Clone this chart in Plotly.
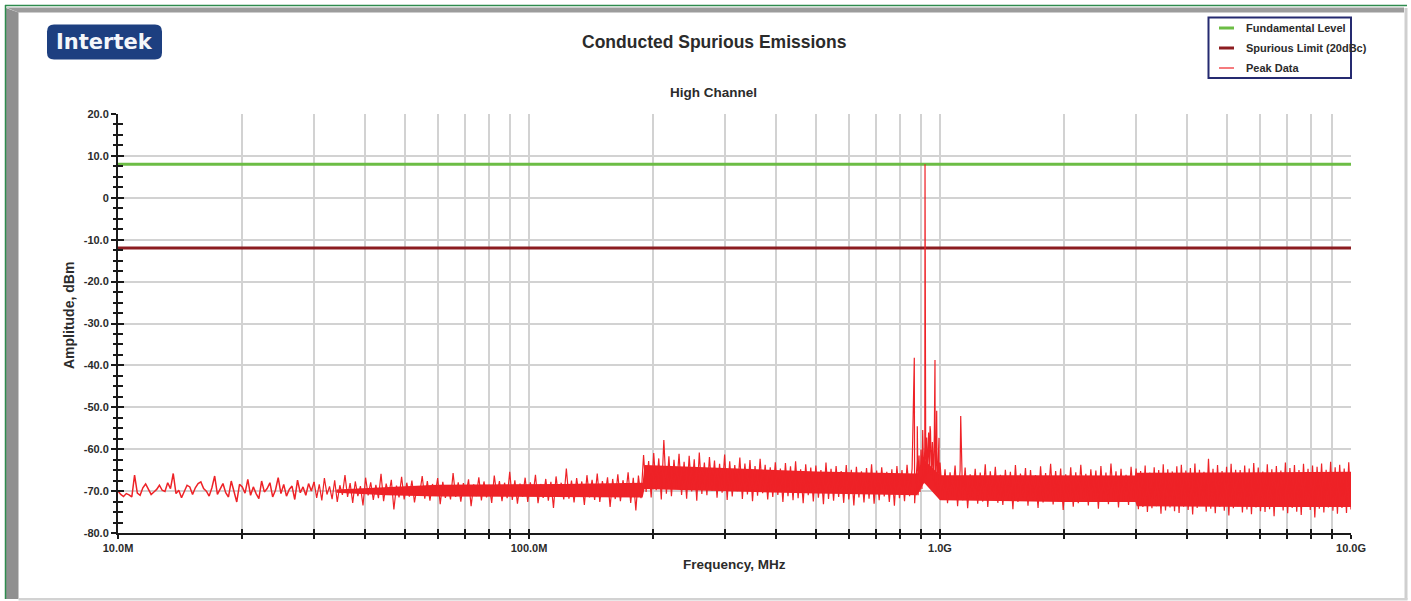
import numpy as np
import plotly.graph_objects as go

# ---------------------------------------------------------------------------
# Measurement data (frequency in MHz, amplitude in dBm)
# ---------------------------------------------------------------------------

# Sweep segment edges; each segment's readings are spread evenly (log-f) across it
seg_edges_mhz = [10, 30, 190, 880, 1000, 3000, 10000]

# 10 - 30 MHz
seg1_dbm = [-70.0, -70.8, -71.3, -70.6, -70.9, -71.4, -66.2, -70.5, -71.0, -69.2,
            -68.3, -69.5, -70.8, -70.2, -69.6, -68.6, -69.8, -70.1, -68.0, -69.4,
            -65.8, -70.6, -69.8, -71.6, -70.0, -68.6, -69.0, -70.8, -69.2, -68.2,
            -67.8, -69.4, -70.0, -71.2, -69.2, -66.4, -70.8, -69.6, -68.2, -70.4,
            -71.4, -67.6, -70.2, -72.6, -68.4, -69.0, -70.5, -67.2, -71.0, -69.0,
            -70.6, -71.8, -67.6, -70.2, -69.4, -68.0, -71.4, -69.8, -66.8, -70.6,
            -68.4, -71.2, -69.6, -68.8, -72.0, -67.4, -70.4, -69.0, -71.0, -68.2,
            -70.0]

# 30 - 190 MHz
seg2_dbm = [-67.8, -71.6, -68.4, -72.2, -66.9, -70.8, -68.9, -71.9, -67.4, -72.6,
            -68.6, -70.9, -66.2, -71.4, -68.1, -72.8, -67.7, -71.2, -68.8, -73.4,
            -66.8, -71.0, -67.9, -72.1, -68.5, -71.7, -65.9, -72.4, -68.2, -70.9,
            -67.3, -74.4, -68.7, -71.5, -66.6, -72.0, -68.0, -71.3, -67.5, -72.7,
            -68.9, -70.8, -66.4, -71.8, -67.6, -72.3, -68.3, -71.1, -66.9, -73.1,
            -67.8, -71.6, -68.6, -72.0, -65.7, -71.4, -67.9, -72.5, -68.1, -70.9,
            -67.2, -73.6, -68.4, -71.2, -66.7, -72.2, -67.7, -71.5, -68.5, -72.8,
            -66.3, -71.0, -67.6, -72.4, -68.0, -71.7, -65.4, -72.1, -67.4, -73.0,
            -68.2, -71.3, -66.8, -72.6, -67.9, -71.1, -66.1, -72.9, -68.3, -71.6,
            -67.1, -72.3, -67.8, -74.0, -66.5, -71.4, -68.0, -72.0, -64.6, -71.8,
            -67.5, -72.7, -66.9, -71.2, -67.7, -73.3, -66.2, -71.5, -67.3, -72.1,
            -65.8, -72.6, -67.6, -71.0, -66.7, -73.8, -67.1, -71.9, -66.0, -72.4,
            -67.4, -71.3, -65.5, -72.8, -66.8, -74.6, -66.3, -71.7]

# 190 - 880 MHz
seg3_dbm = [-61.4, -70.2, -62.8, -71.5, -60.9, -69.8, -62.2, -72.0, -57.8, -70.6,
            -61.7, -71.2, -62.5, -69.5, -61.1, -70.9, -63.0, -71.8, -61.6, -70.1,
            -62.4, -72.3, -60.8, -70.7, -63.2, -71.0, -61.9, -69.9, -62.7, -71.6,
            -63.5, -70.4, -61.3, -72.1, -62.9, -71.3, -63.8, -70.0, -62.0, -71.9,
            -63.4, -70.8, -62.6, -72.4, -64.0, -71.1, -62.3, -70.5, -63.7, -72.0,
            -64.3, -71.4, -63.1, -70.9, -64.6, -72.6, -63.3, -71.2, -64.1, -72.2,
            -62.9, -71.7, -64.8, -72.9, -63.6, -71.0, -64.4, -72.5, -63.9, -71.6,
            -65.0, -73.1, -63.2, -71.9, -64.7, -72.3, -64.0, -71.4, -65.2, -72.8,
            -63.8, -72.0, -64.9, -73.4, -64.2, -71.5, -65.3, -72.7, -64.5, -71.8,
            -63.6, -73.0, -65.1, -72.2, -64.3, -71.3, -65.4, -72.6, -64.8, -73.5,
            -64.0, -71.7, -65.0, -72.4, -63.7, -71.2, -64.6, -72.9]

# 880 - 1000 MHz (around the carrier)
seg4_dbm = [-62.8, -71.0, -61.5, -70.2, -60.1, -69.5, -58.6, -68.2, -59.4, -67.0,
            -57.2, -65.8, -56.0, -64.5, -55.6, -66.0, -58.3, -67.6, -56.8, -69.0,
            -59.7, -70.4, -61.2, -71.6]

# 1 - 3 GHz
seg5_dbm = [-63.2, -71.8, -64.8, -72.9, -65.5, -71.4, -63.9, -73.6, -65.1, -72.2,
            -64.4, -74.1, -66.0, -71.7, -64.7, -73.0, -65.6, -72.5, -63.6, -73.8,
            -65.3, -71.9, -64.2, -72.8, -66.1, -73.3, -64.9, -72.1, -65.4, -74.3,
            -63.8, -72.6, -65.8, -71.6, -64.5, -73.5, -65.0, -72.3, -66.2, -74.0,
            -64.1, -72.7, -65.7, -71.8, -63.5, -73.2, -65.2, -72.4, -64.6, -74.5,
            -66.0, -72.0, -64.3, -73.7, -65.5, -72.9, -63.7, -71.9, -65.9, -73.4,
            -64.8, -72.2, -65.1, -74.2, -64.0, -72.6, -65.6, -73.1, -63.4, -72.0,
            -65.3, -73.9, -64.7, -72.5, -66.1, -73.3, -64.2, -71.7]

# 3 - 10 GHz
seg6_dbm = [-64.6, -74.3, -65.2, -73.8, -63.9, -75.0, -65.6, -74.1, -64.3, -73.6,
            -65.0, -75.4, -63.6, -74.6, -64.8, -73.9, -65.3, -74.8, -64.1, -75.2,
            -63.7, -73.7, -65.1, -74.5, -64.5, -75.6, -63.4, -74.0, -64.9, -73.5,
            -65.4, -74.9, -62.3, -74.2, -64.7, -75.3, -63.8, -73.8, -65.2, -74.7,
            -64.2, -75.8, -63.5, -74.1, -64.9, -73.6, -65.0, -75.1, -63.9, -74.4,
            -64.6, -75.5, -63.3, -73.9, -64.4, -74.8, -65.3, -75.0, -63.6, -74.3,
            -64.8, -76.0, -64.0, -73.7, -65.1, -74.6, -63.2, -75.3, -64.5, -74.0,
            -63.8, -74.9, -65.0, -75.7, -63.5, -73.8, -64.7, -74.5, -63.9, -76.3,
            -64.2, -74.2, -63.4, -75.1, -64.9, -73.9, -63.0, -74.7, -64.3, -75.4,
            -63.7, -74.0, -64.6, -75.2, -63.1, -74.4]

# Carrier and discrete spurs
spur_mhz = [865.9, 880.6, 907.7, 919.5, 945.6, 972.3, 981.7, 994.4, 1123.0]
spur_dbm = [-38.2, -54.5, -55.4, 8.0, -54.5, -38.7, -50.8, -57.3, -52.1]

# Solid core of the noise floor
core_mhz = [34, 45, 60, 120, 189, 191, 300, 500, 880, 915, 1000, 2000, 2990, 3010, 6000, 10000]
core_top_dbm = [-69.6, -69.0, -68.5, -68.3, -68.0, -63.8, -64.5, -65.3, -65.8, -62.5,
                -66.2, -66.3, -66.3, -65.6, -65.4, -65.4]
core_bottom_dbm = [-70.4, -71.0, -71.3, -71.4, -71.5, -69.5, -70.0, -70.6, -71.0, -68.0,
                   -72.2, -72.6, -72.6, -73.6, -73.8, -73.8]

# Reference levels
fundamental_dbm = 8.0
limit_dbc = 20.0
spurious_limit_dbm = fundamental_dbm - limit_dbc

# Axis labels
y_tick_vals = [-80, -70, -60, -50, -40, -30, -20, -10, 0, 10, 20]
y_tick_text = ["-80.0", "-70.0", "-60.0", "-50.0", "-40.0", "-30.0", "-20.0",
               "-10.0", "0", "10.0", "20.0"]
x_decades_mhz = [10, 100, 1000, 10000]
x_decade_text = ["10.0M", "100.0M", "1.0G", "10.0G"]

# ---------------------------------------------------------------------------
# Build the trace
# ---------------------------------------------------------------------------
segments = [seg1_dbm, seg2_dbm, seg3_dbm, seg4_dbm, seg5_dbm, seg6_dbm]
freq_parts, level_parts = [], []
for i, vals in enumerate(segments):
    last = i == len(segments) - 1
    f = np.geomspace(seg_edges_mhz[i], seg_edges_mhz[i + 1], len(vals), endpoint=last)
    freq_parts.append(f)
    level_parts.append(np.asarray(vals, dtype=float))
freq_parts.append(np.asarray(spur_mhz, dtype=float))
level_parts.append(np.asarray(spur_dbm, dtype=float))
peak_f = np.concatenate(freq_parts)
peak_a = np.concatenate(level_parts)
order = np.argsort(peak_f, kind="stable")
peak_f, peak_a = peak_f[order], peak_a[order]

# low band is drawn a little heavier than the dense upper sweep
split = int(np.searchsorted(peak_f, seg_edges_mhz[1]))

# Grid positions: every 1..9 step of each decade
x_tick_vals, x_tick_text = [], []
for k, d in enumerate(x_decades_mhz[:-1]):
    for m in range(1, 10):
        x_tick_vals.append(d * m)
        x_tick_text.append(x_decade_text[k] if m == 1 else "")
x_tick_vals.append(x_decades_mhz[-1])
x_tick_text.append(x_decade_text[-1])

# ---------------------------------------------------------------------------
# Layout geometry helpers (page pixels -> paper fractions)
# ---------------------------------------------------------------------------
W, H = 1411, 601
ML, MR, MT, MB = 118, 60, 114, 68
PW, PH = W - ML - MR, H - MT - MB


def px(x):
    return (x - ML) / PW


def py(y):
    return (H - MB - y) / PH


def poly(points):
    return "M " + " L ".join(f"{px(x):.6f},{py(y):.6f}" for x, y in points) + " Z"


RED = "#ee2227"
GREEN = "#6cbd45"
DARKRED = "#8c1c20"
TXT = "#2b2b2b"
FONT = "Liberation Sans, Arial, sans-serif"

fig = go.Figure()

fig.add_trace(go.Scatter(x=[x_decades_mhz[0], x_decades_mhz[-1]],
                         y=[fundamental_dbm, fundamental_dbm], mode="lines",
                         line=dict(color=GREEN, width=3), name="Fundamental Level",
                         hoverinfo="skip"))
fig.add_trace(go.Scatter(x=[x_decades_mhz[0], x_decades_mhz[-1]],
                         y=[spurious_limit_dbm, spurious_limit_dbm], mode="lines",
                         line=dict(color=DARKRED, width=3), name="Spurious Limit (20dBc)",
                         hoverinfo="skip"))
fig.add_trace(go.Scatter(x=core_mhz + core_mhz[::-1],
                         y=core_top_dbm + core_bottom_dbm[::-1],
                         mode="lines", fill="toself", fillcolor=RED,
                         line=dict(color=RED, width=0), hoverinfo="skip"))
fig.add_trace(go.Scatter(x=peak_f[:split + 1], y=peak_a[:split + 1], mode="lines",
                         line=dict(color=RED, width=1.5), name="Peak Data"))
fig.add_trace(go.Scatter(x=peak_f[split:], y=peak_a[split:], mode="lines",
                         line=dict(color=RED, width=1.2), name="Peak Data"))
# empty trace that carries the overlay axes (inner half of the tick marks)
fig.add_trace(go.Scatter(x=[], y=[], xaxis="x2", yaxis="y2", showlegend=False))

axis_common = dict(showline=False, zeroline=False, tickcolor="#1a1a1a", tickwidth=1.5)

fig.update_layout(
    width=W, height=H, autosize=False,
    margin=dict(l=ML, r=MR, t=MT, b=MB, pad=0),
    paper_bgcolor="white", plot_bgcolor="white",
    showlegend=False,
    font=dict(family=FONT, color=TXT),
    xaxis=dict(type="log", range=[1, 4], tickmode="array", tickvals=x_tick_vals,
               ticktext=x_tick_text, ticks="outside", ticklen=4, tickwidth=1.5,
               tickcolor="#1a1a1a", showgrid=True, gridcolor="#d2d2d2", gridwidth=1.6,
               showline=True, linecolor="#1a1a1a", linewidth=2, zeroline=False,
               tickfont=dict(family=FONT, size=11, color=TXT, weight="bold"),
               tickangle=0),
    yaxis=dict(range=[-80, 20], tickmode="array", tickvals=y_tick_vals,
               ticktext=y_tick_text, ticks="outside", ticklen=5, tickwidth=1.5,
               tickcolor="#1a1a1a", showgrid=True, gridcolor="#d2d2d2", gridwidth=1.6,
               showline=True, linecolor="#1a1a1a", linewidth=2, zeroline=False,
               minor=dict(tickmode="linear", tick0=-80, dtick=2.5, ticks="outside",
                          ticklen=3, tickwidth=1.5, tickcolor="#1a1a1a", showgrid=False),
               tickfont=dict(family=FONT, size=11, color=TXT, weight="bold")),
    xaxis2=dict(type="log", range=[1, 4], overlaying="x", anchor="y", side="bottom",
                tickmode="array", tickvals=x_tick_vals, ticks="inside", ticklen=4,
                showticklabels=False, showgrid=False, **axis_common),
    yaxis2=dict(range=[-80, 20], overlaying="y", anchor="x", side="left",
                tickmode="array", tickvals=y_tick_vals, ticks="inside", ticklen=6,
                showticklabels=False, showgrid=False,
                minor=dict(tickmode="linear", tick0=-80, dtick=2.5, ticks="inside",
                           ticklen=4.5, tickwidth=1.5, tickcolor="#1a1a1a", showgrid=False),
                **axis_common),
)

# ---------------------------------------------------------------------------
# Page frame, logo and legend panel (all placed in paper coordinates)
# ---------------------------------------------------------------------------
shapes = []


def add_shape(**kw):
    kw.setdefault("xref", "paper")
    kw.setdefault("yref", "paper")
    kw.setdefault("layer", "above")
    shapes.append(kw)


# bevelled frame
add_shape(type="path", path=poly([(6, 7.5), (1404, 7.5), (1404, 12.5), (18.5, 12.5)]),
          fillcolor="#9c9c9c", line=dict(width=0))
add_shape(type="path", path=poly([(6, 8), (18.5, 12.5), (18.5, 599), (6, 599)]),
          fillcolor="#909090", line=dict(width=0))
add_shape(type="rect", x0=px(1404.5), x1=px(1407.5), y0=py(599.5), y1=py(8),
          fillcolor="#cfcfcf", line=dict(width=0))
add_shape(type="rect", x0=px(18.5), x1=px(1407.5), y0=py(600.5), y1=py(598),
          fillcolor="#d2d2d2", line=dict(width=0))
add_shape(type="line", x0=px(5), x1=px(1407), y0=py(5.5), y1=py(5.5),
          line=dict(color="#2e8b4e", width=1.5))
add_shape(type="line", x0=px(5.5), x1=px(5.5), y0=py(5), y1=py(599),
          line=dict(color="#2e8b4e", width=1.5))

# logo badge (rounded rectangle)
lx0, lx1, ly0, ly1, r = 47, 162, 24.5, 59.5, 7
logo_path = (f"M {px(lx0 + r)},{py(ly0)} L {px(lx1 - r)},{py(ly0)} "
             f"Q {px(lx1)},{py(ly0)} {px(lx1)},{py(ly0 + r)} "
             f"L {px(lx1)},{py(ly1 - r)} Q {px(lx1)},{py(ly1)} {px(lx1 - r)},{py(ly1)} "
             f"L {px(lx0 + r)},{py(ly1)} Q {px(lx0)},{py(ly1)} {px(lx0)},{py(ly1 - r)} "
             f"L {px(lx0)},{py(ly0 + r)} Q {px(lx0)},{py(ly0)} {px(lx0 + r)},{py(ly0)} Z")
add_shape(type="path", path=logo_path, fillcolor="#1d3f80", line=dict(width=0))

# legend panel
add_shape(type="rect", x0=px(1208.5), x1=px(1351), y0=py(78), y1=py(17.5),
          line=dict(color="#252a70", width=2), fillcolor="rgba(0,0,0,0)")
legend_rows = [("Fundamental Level", GREEN, 3, 28),
               ("Spurious Limit (20dBc)", DARKRED, 3, 48),
               ("Peak Data", RED, 1.2, 68)]
annotations = []
for label, color, lw, yy in legend_rows:
    add_shape(type="line", x0=px(1219), x1=px(1234), y0=py(yy), y1=py(yy),
              line=dict(color=color, width=lw))
    annotations.append(dict(x=px(1243.5), y=py(yy), xref="paper", yref="paper", text=label,
                            showarrow=False, xanchor="left", yanchor="middle",
                            font=dict(family=FONT, size=11, color=TXT, weight="bold")))

annotations += [
    dict(x=px(104), y=py(42), xref="paper", yref="paper", text="Intertek", showarrow=False,
         xanchor="center", yanchor="middle",
         font=dict(family="DejaVu Sans, sans-serif", size=21, color="#f4f6fa", weight="bold")),
    dict(x=px(714), y=py(42), xref="paper", yref="paper", text="Conducted Spurious Emissions",
         showarrow=False, xanchor="center", yanchor="middle",
         font=dict(family=FONT, size=17.5, color=TXT, weight="bold")),
    dict(x=px(713), y=py(92), xref="paper", yref="paper", text="High Channel",
         showarrow=False, xanchor="center", yanchor="middle",
         font=dict(family=FONT, size=13.5, color=TXT, weight="bold")),
    dict(x=px(734), y=py(564), xref="paper", yref="paper", text="Frequency, MHz",
         showarrow=False, xanchor="center", yanchor="middle",
         font=dict(family=FONT, size=13.5, color=TXT, weight="bold")),
    dict(x=px(69), y=py(316), xref="paper", yref="paper", text="Amplitude, dBm",
         showarrow=False, xanchor="center", yanchor="middle", textangle=-90,
         font=dict(family=FONT, size=14, color=TXT, weight="bold")),
]

fig.update_layout(shapes=shapes, annotations=annotations)
fig.write_html("out.html")
